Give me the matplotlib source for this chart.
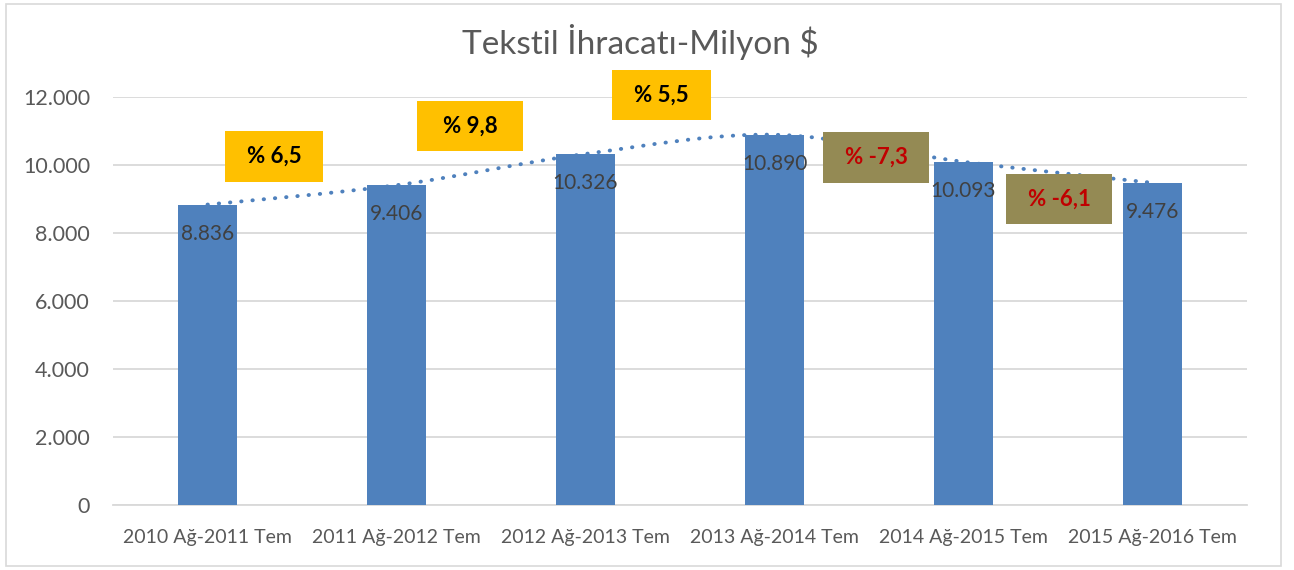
import matplotlib
matplotlib.use("Agg")
import matplotlib.pyplot as plt
from matplotlib.path import Path
from matplotlib.patches import PathPatch, Rectangle
import numpy as np

categories = ["2010 Ağ-2011 Tem", "2011 Ağ-2012 Tem", "2012 Ağ-2013 Tem",
              "2013 Ağ-2014 Tem", "2014 Ağ-2015 Tem", "2015 Ağ-2016 Tem"]
values = [8836, 9406, 10326, 10890, 10093, 9476]
value_labels = ["8.836", "9.406", "10.326", "10.890", "10.093", "9.476"]
change_labels = ["% 6,5", "% 9,8", "% 5,5", "% -7,3", "% -6,1"]
yticks = [0, 2000, 4000, 6000, 8000, 10000, 12000]
ytick_labels = ["0", "2.000", "4.000", "6.000", "8.000", "10.000", "12.000"]

FONT = ["Lato", "DejaVu Sans"]
plt.rcParams['font.family'] = FONT

W, H = 1294, 570
fig = plt.figure(figsize=(W / 100, H / 100), dpi=100)
fig.patch.set_facecolor("white")

# outer border
fig.add_artist(Rectangle((6 / W, 4 / H), (1281 - 6) / W, (566 - 4) / H,
                         transform=fig.transFigure, fill=False,
                         edgecolor="#D9D9D9", linewidth=1.2))

left, right, y0px, ytop = 113, 1247, 505, 97
ax = fig.add_axes([left / W, (H - y0px) / H, (right - left) / W, (y0px - ytop) / H])
ax.set_xlim(-0.5, len(categories) - 0.5)
ax.set_ylim(0, 12000)

x = np.arange(len(categories))
ax.bar(x, values, width=0.315, color="#4F81BD", zorder=3)

# smoothed line through the values (Excel-style Bezier smoothing)
pts = np.column_stack([x, values]).astype(float)
ext = np.vstack([pts[0], pts, pts[-1]])
verts = [tuple(pts[0])]
codes = [Path.MOVETO]
for i in range(len(pts) - 1):
    p0, p1, p2, p3 = ext[i], ext[i + 1], ext[i + 2], ext[i + 3]
    c1 = p1 + (p2 - p0) / 6.0
    c2 = p2 - (p3 - p1) / 6.0
    verts += [tuple(c1), tuple(c2), tuple(p2)]
    codes += [Path.CURVE4] * 3
ax.add_patch(PathPatch(Path(verts, codes), fill=False, edgecolor="#4F81BD",
                       linewidth=2.8, linestyle=(0, (0.1, 2.8)),
                       capstyle="round", zorder=2))

for xi, v, lab in zip(x, values, value_labels):
    ax.annotate(lab, (xi, v), xytext=(0, -35), textcoords="offset pixels",
                ha="center", va="baseline", fontsize=15, color="#404040", zorder=4)

ax.set_yticks(yticks)
ax.set_yticklabels(ytick_labels)
ax.set_xticks(x)
ax.set_xticklabels(categories)
ax.tick_params(axis="both", length=0, colors="#595959")
ax.tick_params(axis="y", pad=16.5, labelsize=15.5)
ax.tick_params(axis="x", pad=17, labelsize=14)
ax.grid(axis="y", color="#D9D9D9", linewidth=1.3, zorder=0)
for s in ["top", "right", "left"]:
    ax.spines[s].set_visible(False)
ax.spines["bottom"].set_color("#D9D9D9")
ax.spines["bottom"].set_linewidth(1.3)

# change boxes (pixel layout)
boxes = [(225, 323, 131, 182), (417, 523, 101, 151), (612, 711, 70, 120),
         (823, 929, 132, 183), (1006, 1112, 174, 224)]
box_colors = ["#FFC000", "#FFC000", "#FFC000", "#948A54", "#948A54"]
text_colors = ["black", "black", "black", "#C00000", "#C00000"]
for (x1, x2, yt, yb), lab, bc, tc in zip(boxes, change_labels, box_colors, text_colors):
    fig.add_artist(Rectangle((x1 / W, (H - yb) / H), (x2 - x1) / W, (yb - yt) / H,
                             transform=fig.transFigure, facecolor=bc,
                             edgecolor="none", zorder=5))
    fig.text((x1 + x2) / 2 / W, (H - (yt + yb) / 2) / H, lab, ha="center",
             va="center", fontsize=16, fontweight="bold", color=tc, zorder=6)

fig.text(640 / W, (H - 54) / H, "Tekstil İhracatı-Milyon $", ha="center", va="baseline",
         fontsize=24, color="#595959")

fig.savefig("out.png", dpi=100)
